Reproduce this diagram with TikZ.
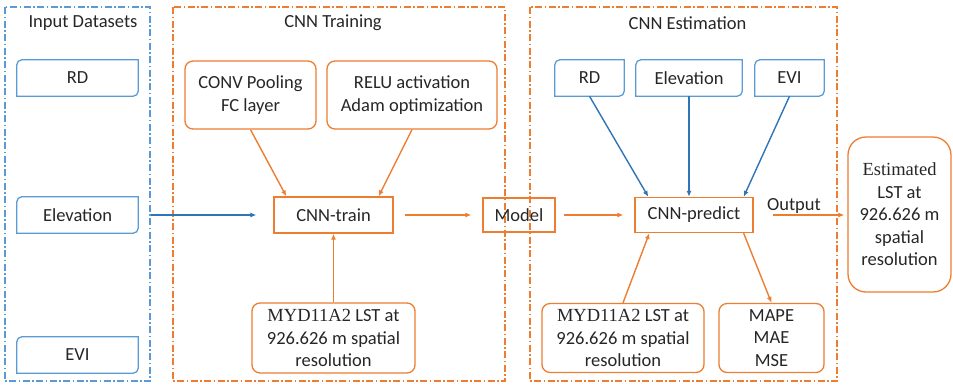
\documentclass[tikz,border=0pt]{standalone}
\usepackage{fontspec}
\setmainfont{Carlito}
\newfontfamily\timesfont{Liberation Serif}
\usetikzlibrary{arrows.meta}

\definecolor{lstorange}{RGB}{237,125,49}
\definecolor{lstblue}{RGB}{91,155,213}
\definecolor{lstarrow}{RGB}{46,117,182}

\tikzset{
    dashframe/.style={line width=1.3pt, dash pattern=on 7pt off 2.5pt on 1.5pt off 2.5pt},
    inbox/.style={inner sep=0pt, minimum width=#1, minimum height=36},
    sharpbox/.style={draw=lstorange, line width=1.3pt, inner sep=0pt},
    roundbox/.style={draw=lstorange, line width=1.3pt, rounded corners=8pt, inner sep=0pt, align=center},
    orangearrow/.style={draw=lstorange, line width=1.4pt, -{Latex[length=6pt,width=5pt]}},
    bluearrow/.style={draw=lstarrow, line width=1.4pt, -{Latex[length=6pt,width=5pt]}}
}

% blue box, rounded top left and bottom right
\newcommand{\diagedge}[1]{%
    \draw[lstblue, line width=1.3pt] (#1.south west) -- ([yshift=-5]#1.north west)
        arc[start angle=180, end angle=90, radius=5] -- (#1.north east)
        -- ([yshift=5]#1.south east) arc[start angle=0, end angle=-90, radius=5] -- cycle;}

\begin{document}
\begin{tikzpicture}[x=1pt, y=1pt, every node/.style={font=\fontsize{18.5}{22.5}\selectfont, text=black!85}]
    \useasboundingbox (0,0) rectangle (953,-384);

    % frames
    \draw[dashframe, lstblue] (5,-7) rectangle (150,-381);
    \draw[dashframe, lstorange] (173,-7) rectangle (505,-381);
    \draw[dashframe, lstorange] (530,-7) rectangle (837,-381);
    \node (tin) at (83,-23) {Input Datasets};
    \node (ttrain) at (333,-23) {CNN Training};
    \node (test) at (687.5,-23) {CNN Estimation};

    % input datasets
    \node[inbox=121] (rdin) at (77.5,-78) {RD};
    \node[inbox=121] (elevin) at (77.5,-215) {Elevation};
    \node[inbox=121] (eviin) at (77.5,-355) {EVI};
    \diagedge{rdin}
    \diagedge{elevin}
    \diagedge{eviin}

    % cnn training
    \node[roundbox, minimum width=131, minimum height=68] (conv) at (250.5,-95) {CONV Pooling\\FC layer};
    \node[roundbox, minimum width=170, minimum height=68] (relu) at (412,-95) {RELU activation\\Adam optimization};
    \node[sharpbox, minimum width=119, minimum height=36] (train) at (333.5,-215) {CNN-train};
    \node[roundbox, minimum width=163, minimum height=70] (mydtrain) at (333.5,-338) {{\timesfont MYD11A2} LST at\\926.626 m spatial\\resolution};
    \node[sharpbox, minimum width=72, minimum height=34] (model) at (519,-215) {Model};

    % cnn estimation
    \node[inbox=69] (rdest) at (589.5,-78) {RD};
    \node[inbox=106] (elevest) at (689,-78) {Elevation};
    \node[inbox=69] (eviest) at (789.5,-78) {EVI};
    \diagedge{rdest}
    \diagedge{elevest}
    \diagedge{eviest}
    \node[sharpbox, minimum width=118, minimum height=35] (predict) at (694,-215) {CNN-predict};
    \node[roundbox, minimum width=162, minimum height=69] (mydest) at (623,-338) {{\timesfont MYD11A2} LST at\\926.626 m spatial\\resolution};
    \node[roundbox, minimum width=105, minimum height=69] (metrics) at (771.5,-338) {MAPE\\MAE\\MSE};
    \node[roundbox, rounded corners=18pt, minimum width=103, minimum height=155] (lstout) at (899.5,-214.5) {{\timesfont Estimated}\\LST at\\926.626 m\\spatial\\resolution};

    % arrows
    \draw[orangearrow] (conv.south) -- ([xshift=13]train.north west);
    \draw[orangearrow] (relu.south) -- ([xshift=-15]train.north east);
    \draw[bluearrow, shorten <=13pt, shorten >=17pt] (elevin.east) -- (elevin.east -| train.west); % Elevation -> CNN-train
    \draw[orangearrow] (mydtrain.north) -- (train.south);
    \draw[orangearrow, shorten <=11pt, shorten >=11pt] (train.east) -- (train.east -| model.west);
    \draw[orangearrow, shorten <=8pt, shorten >=11pt] (model.east) -- (model.east -| predict.west);
    \draw[bluearrow] (rdest.south) -- ([xshift=14]predict.north west);
    \draw[bluearrow] (elevest.south) -- (elevest.south |- predict.north);
    \draw[bluearrow] (eviest.south) -- ([xshift=-10]predict.north east);
    \draw[orangearrow] (mydest.north) -- ([xshift=15]predict.south west);
    \draw[orangearrow] ([xshift=-10]predict.south east) -- (metrics.north);
    \draw[orangearrow, shorten <=19pt, shorten >=3pt] (predict.east) -- node[pos=0.43, above, inner sep=1pt, text=black!85] (outlbl) {Output} (predict.east -| lstout.west);

\end{tikzpicture}
\end{document}
